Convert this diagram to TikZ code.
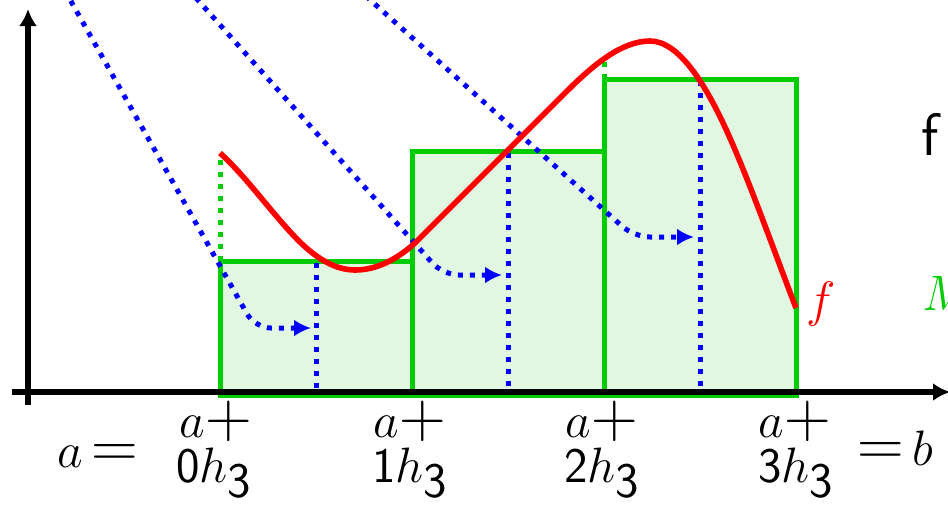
\documentclass[tikz,border=0pt]{standalone}
\usepackage{graphicx}
\usetikzlibrary{arrows.meta}
\definecolor{mygreen}{RGB}{0,204,0}
\definecolor{myfill}{RGB}{226,247,226}
\definecolor{myblue}{RGB}{0,0,255}
\definecolor{myred}{RGB}{255,0,0}
\newcommand{\bplus}{\scalebox{1.3}{$+$}}
\newcommand{\beq}{\scalebox{1.3}{$=$}}
\newcommand{\hsub}{h_{\textstyle\mathsf{3}}}
\begin{document}
\begin{tikzpicture}[x=0.5pt,y=-0.5pt,
  axisline/.style={line width=3pt, -{Latex[length=8.5pt,width=9pt]}},
  barbox/.style={draw=mygreen, fill=myfill, line width=2.5pt},
  bluedot/.style={myblue, line width=2.5pt, dash pattern=on 2.5pt off 3.5pt},
  greendot/.style={mygreen, line width=2.5pt, dash pattern=on 2.5pt off 3.5pt},
  bluearrow/.style={bluedot, rounded corners=8pt, -{Latex[length=8.5pt,width=8.5pt]}},
  curve/.style={myred, line width=2.8pt},
  lbl/.style={inner sep=0pt, font=\fontsize{25}{30}\selectfont},
]
\useasboundingbox (0,0) rectangle (948,505);
\clip (0,0) rectangle (948,505);

% bars
\path[barbox] (220,395) rectangle (412,261);
\path[barbox] (412,395) rectangle (604,151);
\path[barbox] (604,395) rectangle (796,79);

% green dotted verticals (function values at partition points)
\coordinate (g0a) at (220,261); \coordinate (g0b) at (220,153);
\coordinate (g2a) at (604,79);  \coordinate (g2b) at (604,62);
\draw[greendot] (g0a) -- (g0b);
\draw[greendot] (g2a) -- (g2b);

% blue dotted midpoint verticals
\coordinate (m1t) at (316,263); \coordinate (m1b) at (316,393);
\coordinate (m2t) at (508,153); \coordinate (m2b) at (508,393);
\coordinate (m3t) at (700,81);  \coordinate (m3b) at (700,393);
\draw[bluedot] (m1t) -- (m1b);
\draw[bluedot] (m2t) -- (m2b);
\draw[bluedot] (m3t) -- (m3b);

% blue dotted arrows
\coordinate (s1) at (59,-20);  \coordinate (c1) at (255,328); \coordinate (e1) at (311,328);
\coordinate (s2) at (180,-20); \coordinate (c2) at (443,275); \coordinate (e2) at (502,275);
\coordinate (s3) at (348,-20); \coordinate (c3) at (634,237); \coordinate (e3) at (694,237);
\draw[bluearrow] (s1) -- (c1) -- (e1);
\draw[bluearrow] (s2) -- (c2) -- (e2);
\draw[bluearrow] (s3) -- (c3) -- (e3);

% function f
\draw[curve] (220,153) .. controls (245,175.5) and (270,210.75) .. (295,237)
  .. controls (315,258) and (335,270) .. (355,270)
  .. controls (375,270) and (395,261) .. (415,243)
  .. controls (465,193) and (515,143) .. (565,93)
  .. controls (593.33,64.67) and (621.67,41) .. (650,41)
  .. controls (677.67,41) and (705.33,80.5) .. (733,145)
  .. controls (754,194) and (775,253.4) .. (796,308);

% axes
\coordinate (xs) at (12,392); \coordinate (xe) at (950,392);
\coordinate (ys) at (28,405); \coordinate (ye) at (28,9);
\draw[axisline] (xs) -- (xe);
\draw[axisline] (ys) -- (ye);

% labels
\node[lbl, anchor=base] (t0a) at (216,437) {$a$\bplus};
\node[lbl, anchor=base] (t0b) at (214,482) {$\mathsf{0}\hsub$};
\node[lbl, anchor=base] (t1a) at (410,437) {$a$\bplus};
\node[lbl, anchor=base] (t1b) at (410,482) {$\mathsf{1}\hsub$};
\node[lbl, anchor=base] (t2a) at (602,437) {$a$\bplus};
\node[lbl, anchor=base] (t2b) at (602,482) {$\mathsf{2}\hsub$};
\node[lbl, anchor=base] (t3a) at (795,437) {$a$\bplus};
\node[lbl, anchor=base] (t3b) at (796,482) {$\mathsf{3}\hsub$};
\node[lbl, anchor=base west] (aeq) at (57,467) {$a$\,\beq};
\node[lbl, anchor=base west] (eqb) at (857,465) {\beq\,$b$};

\node[inner sep=0pt, anchor=base west, text=myred, font=\fontsize{31}{36}\selectfont] (flab) at (806,316) {$f$};
\node[inner sep=0pt, anchor=base west, font=\fontsize{30}{36}\selectfont\sffamily] (ftxt) at (921,155) {f};
\node[inner sep=0pt, anchor=base west, text=mygreen, font=\fontsize{30}{36}\selectfont] (mtxt) at (922,310) {$M$};
\end{tikzpicture}
\end{document}
